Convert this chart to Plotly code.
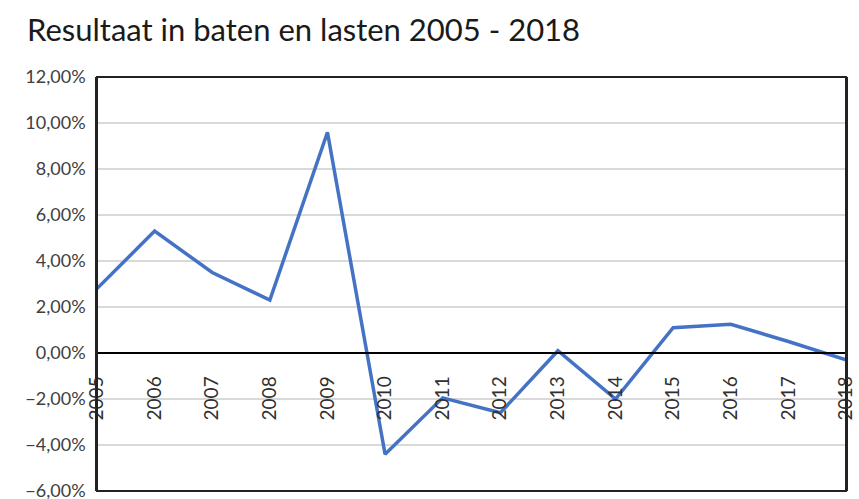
import plotly.graph_objects as go

years = list(range(2005, 2019))
resultaat = [0.028, 0.053, 0.035, 0.023, 0.096, -0.044, -0.0195, -0.026,
             0.001, -0.020, 0.011, 0.0125, 0.005, -0.003]

title_text = "Resultaat in baten en lasten 2005 - 2018"
y_ticks = [-0.06, -0.04, -0.02, 0.0, 0.02, 0.04, 0.06, 0.08, 0.10, 0.12]

fig = go.Figure()
fig.add_trace(go.Scatter(
    x=years, y=resultaat, mode="lines",
    line=dict(color="#4472C4", width=3.5),
    hoverinfo="skip", showlegend=False,
))

fig.update_layout(
    width=859, height=499,
    margin=dict(l=97, r=13, t=77, b=8, autoexpand=False),
    paper_bgcolor="white", plot_bgcolor="white",
    separators=",.",
    font=dict(family="Lato, Open Sans, sans-serif", color="#404040"),
    title=dict(text=title_text, x=27/859, xanchor="left",
               y=1 - 30/499, yanchor="middle", yref="container",
               font=dict(size=31, color="#1a1a1a", family="Lato, Open Sans, sans-serif")),
    xaxis=dict(
        range=[2005, 2018], tickmode="array", tickvals=years,
        ticktext=[str(y) for y in years],
        tickangle=-90, showgrid=False, zeroline=False,
        showline=True, linecolor="#000000", linewidth=1.5,
        anchor="free", position=1/3, side="bottom",
        ticks="", ticklabelstandoff=15, automargin=False,
        ticklabeloverflow="allow",
        tickfont=dict(size=19, color="#303030"),
    ),
    yaxis=dict(
        range=[-0.06, 0.12], tickvals=y_ticks, tickformat=".2%",
        showgrid=True, gridcolor="#d9d9d9", gridwidth=1.5,
        zeroline=False, showline=True, mirror=True,
        linecolor="#222222", linewidth=1.5,
        ticks="", automargin=False,
        ticklabelstandoff=6, ticklabeloverflow="allow",
        tickfont=dict(size=18, color="#404040"),
    ),
    shapes=[
        dict(type="rect", xref="paper", yref="paper", x0=0, x1=1, y0=0, y1=1,
             line=dict(color="#222222", width=2), layer="above"),
    ],
)

fig.write_html(
    "out.html",
    config={"displayModeBar": False},
    post_script="document.body.style.margin='0';document.body.style.overflow='hidden';",
)
